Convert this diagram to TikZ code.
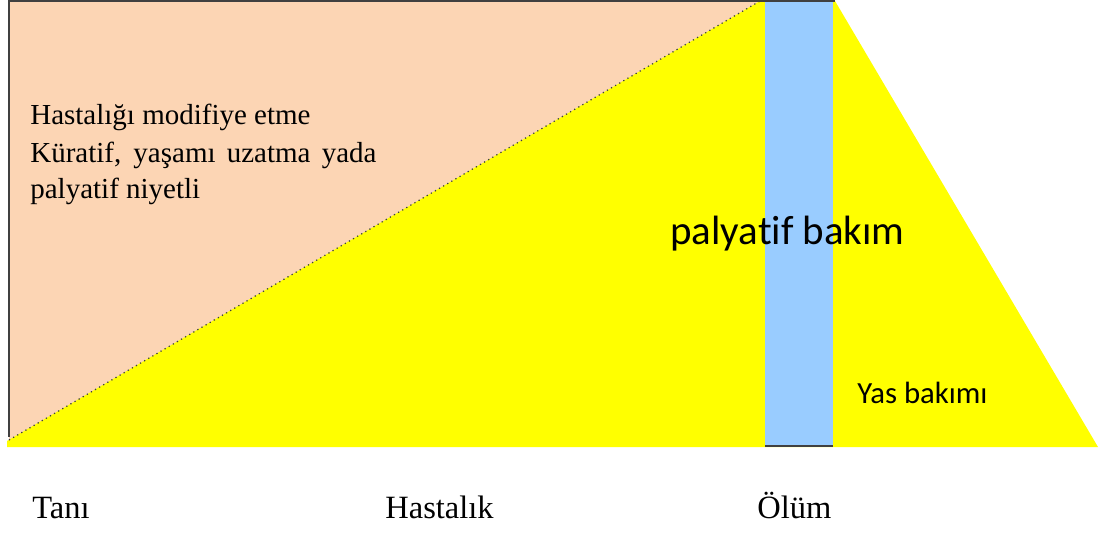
\documentclass[tikz,border=0pt]{standalone}
\usepackage{fontspec}
\setmainfont{Liberation Serif}
\newfontfamily\calibrifont[Ligatures=NoCommon]{Carlito}
\definecolor{peach}{HTML}{FCD5B4}
\definecolor{bloodyellow}{HTML}{FFFF00}
\definecolor{stripblue}{HTML}{99CCFF}
\definecolor{edgegray}{HTML}{404040}

\begin{document}
\begin{tikzpicture}[x=0.02cm,y=-0.02cm]
        \useasboundingbox (0,0) rectangle (1101,533);
        \tikzset{
            phase/.style={inner sep=0pt,anchor=base west,font=\fontsize{16.5}{21}\selectfont},
            time/.style={inner sep=0pt,anchor=base west,font=\fontsize{18.5}{22}\selectfont},
            care/.style={inner sep=0pt,anchor=base west,font=\calibrifont}
        }
        % disease modifying part (upper left)
        \fill[peach] (9,1) -- (760,1) -- (9,440) -- cycle;
        % palliative care, widening towards death and then grief care
        \fill[bloodyellow] (7,441) -- (760,1) -- (835,1) -- (1098,447) -- (7,447) -- cycle;
        % death strip
        \fill[stripblue] (765,1) rectangle (833,446);
        \draw[edgegray,line width=1pt] (9,1) -- (835,1);
        \draw[edgegray,line width=1pt] (9,0) -- (9,437);
        \draw[edgegray,line width=1.2pt] (765,446) -- (833,446);
        \draw[edgegray,dotted,line width=0.7pt] (9,440) -- (760,1);
        % texts
        \node[phase] (aim1) at (30,125) {Hastalığı modifiye etme};
        \node[phase] (aim2) at (30,163) {\makebox[197pt][s]{Küratif, yaşamı uzatma yada}};
        \node[phase] (aim3) at (30,199) {palyatif niyetli};
        \node[care,font=\calibrifont\fontsize{23.3}{26}\selectfont] (palya) at (670,245) {palyatif bakım};
        \node[care,font=\calibrifont\fontsize{17.5}{20}\selectfont] (yas) at (857,403) {Yas bakımı};
        \node[time] (tani) at (32,518) {Tanı};
        \node[time] (hasta) at (385,518) {Hastalık};
        \node[time] (olum) at (757,518) {Ölüm};
    \end{tikzpicture}
\end{document}
